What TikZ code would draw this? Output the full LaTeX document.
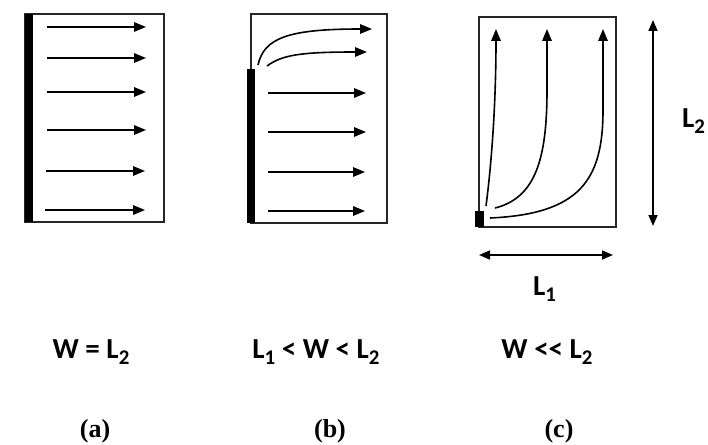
\documentclass[tikz,border=0pt]{standalone}
\usepackage{fontspec}
\setmainfont{Liberation Serif}
\setsansfont{Carlito}
\usetikzlibrary{arrows.meta}
\newcommand{\lsub}[1]{\raisebox{-0.22em}{\scalebox{0.72}{#1}}}

\begin{document}
\begin{tikzpicture}[x=1pt, y=-1pt,
  frame/.style={draw=black!85, line width=1.4pt},
  wall/.style={fill=black},
  flow/.style={line width=1.6pt, -{Triangle[length=12pt,width=9.5pt]}},
  span/.style={line width=1.6pt, {Triangle[length=11pt,width=9pt]}-{Triangle[length=11pt,width=9pt]}},
  cond/.style={font=\sffamily\bfseries\fontsize{29}{31}\selectfont, inner sep=0pt},
  tag/.style={font=\rmfamily\bfseries\fontsize{26}{28}\selectfont, inner sep=0pt}
]
  \useasboundingbox (0,0) rectangle (708,444);

  % panel (a): wall along the whole width
  \draw[frame] (25,14) rectangle (164,222);
  \fill[wall] (25,14) rectangle (33,222);
  \draw[flow] (47,27) -- (146,27);
  \draw[flow] (47,58) -- (146,58);
  \draw[flow] (47,92) -- (146,92);
  \draw[flow] (47,130) -- (146,130);
  \draw[flow] (46,171) -- (145,171);
  \draw[flow] (45,210) -- (145,210);

  % panel (b): wall along part of the side, flow bends over its end
  \draw[frame] (251,14) rectangle (387,223);
  \fill[wall] (247,69) rectangle (255,223);
  \draw[flow] (258,65) .. controls (264,38) and (288,29) .. (372,29);
  \draw[flow] (267,66) .. controls (282,55) and (300,52) .. (367,52);
  \draw[flow] (268,93) -- (366,93);
  \draw[flow] (268,132) -- (366,132);
  \draw[flow] (268,172) -- (365,172);
  \draw[flow] (268,211) -- (365,211);

  % panel (c): small source in the corner
  \draw[frame] (479,17) rectangle (616,227);
  \fill[wall] (475,211) rectangle (484,227);
  \draw[flow] (486,206) .. controls (492,160) and (496,100) .. (496,29);
  \draw[flow] (495,208) .. controls (535,198) and (547,160) .. (547,90) -- (547,29);
  \draw[flow] (490,218) .. controls (580,214) and (603,180) .. (603,110) -- (603,29);

  % dimensions
  \coordinate (l2top) at (653,20);
  \coordinate (l2bot) at (653,226);
  \coordinate (l1left) at (479,255);
  \coordinate (l1right) at (613,255);
  \draw[span] (l2top) -- (l2bot);
  \draw[span] (l1left) -- (l1right);
  \node[cond, anchor=base west] (lenB) at (682,127) {L\lsub{2}};
  \node[cond, anchor=base west] (lenA) at (533,295) {L\lsub{1}};

  % conditions and panel tags
  \node[cond, anchor=base] (condA) at (91,358) {W = L\lsub{2}};
  \node[cond, anchor=base] (condB) at (316,358) {L\lsub{1} < W < L\lsub{2}};
  \node[cond, anchor=base] (condC) at (547,358) {W <{}< L\lsub{2}};
  \node[tag, anchor=base] (tagA) at (95,437) {(a)};
  \node[tag, anchor=base] (tagB) at (330,437) {(b)};
  \node[tag, anchor=base] (tagC) at (559,437) {(c)};
\end{tikzpicture}
\end{document}
